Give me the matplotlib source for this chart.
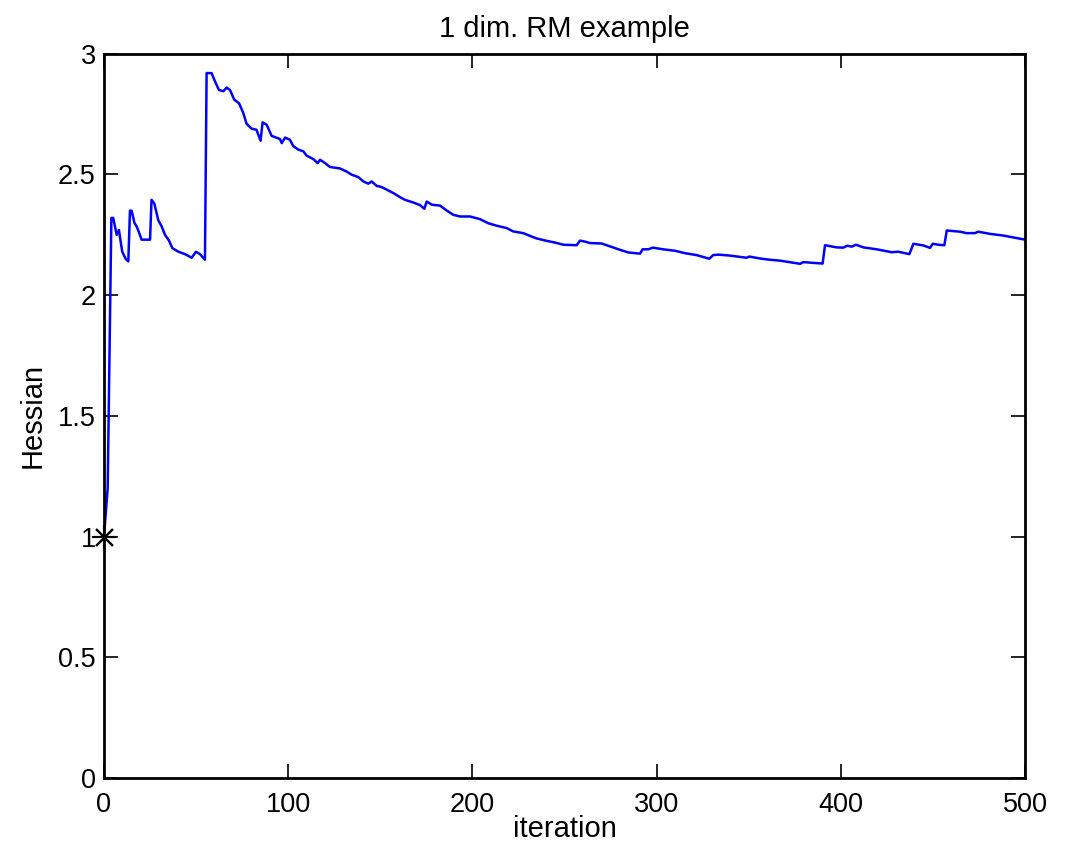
import matplotlib
matplotlib.use("Agg")
import matplotlib.pyplot as plt

plt.rcParams['font.family'] = ['Liberation Sans', 'DejaVu Sans']

iteration = [0, 2, 4, 5, 6.9, 8.1, 9.9, 11.8, 13.2, 14.1, 15, 16.5, 17.7, 19, 20.4, 25, 25.8, 27.3,
             29.5, 31.3, 33.1, 35.3, 37.1, 40.4, 44, 47.6, 49.9, 52.1, 54.8, 55.7, 58.4, 60.3, 62.4,
             64.8, 66.6, 68.4, 70.7, 73.3, 75.6, 77.4, 80.1, 82.8, 85, 86.1, 88.3, 91, 95.5, 96.5,
             98.3, 100.9, 102.8, 105.5, 108.2, 110, 113.6, 116, 117.3, 120, 122.7, 128.1, 131.7,
             134.5, 138.1, 140.8, 143.5, 145.3, 148, 150.7, 153.5, 157.1, 160.7, 163.4, 167.9,
             171.6, 173.9, 175.2, 177.9, 182.4, 186, 189.6, 193.3, 198.7, 204.1, 208.6, 213.1,
             218.6, 222.2, 227.6, 232.1, 234.9, 240.3, 244.8, 249.4, 256.6, 258.4, 261.1, 263.8,
             270.2, 274.7, 280.1, 284.6, 291, 292.4, 295.5, 297.9, 303.6, 310, 315.4, 321.7, 328.6,
             330.7, 333.5, 339.8, 348.9, 350.3, 356.1, 361.2, 367, 377.9, 379.6, 390.1, 391.4,
             397.7, 401.3, 403.5, 405.9, 408.2, 412.2, 419.5, 427.6, 431.2, 437.2, 439.4, 444.8,
             448.4, 449.9, 452.9, 456.2, 457.5, 464.7, 468.3, 472.8, 474.6, 481, 488.2, 500]
hessian = [1.0, 1.2, 2.32, 2.32, 2.25, 2.27, 2.18, 2.15, 2.14, 2.35, 2.35, 2.30, 2.285, 2.26, 2.23,
           2.23, 2.395, 2.38, 2.31, 2.285, 2.25, 2.226, 2.195, 2.18, 2.17, 2.155, 2.18, 2.17,
           2.147, 2.92, 2.92, 2.885, 2.85, 2.845, 2.86, 2.85, 2.81, 2.795, 2.755, 2.71, 2.69,
           2.685, 2.64, 2.716, 2.706, 2.66, 2.647, 2.63, 2.653, 2.644, 2.617, 2.603, 2.596, 2.578,
           2.564, 2.547, 2.561, 2.547, 2.531, 2.525, 2.512, 2.499, 2.489, 2.471, 2.462, 2.471,
           2.453, 2.448, 2.437, 2.423, 2.406, 2.395, 2.384, 2.373, 2.358, 2.388, 2.375, 2.371,
           2.351, 2.333, 2.326, 2.326, 2.315, 2.298, 2.288, 2.278, 2.264, 2.257, 2.243, 2.235,
           2.225, 2.218, 2.209, 2.207, 2.226, 2.222, 2.216, 2.214, 2.202, 2.188, 2.177, 2.172,
           2.19, 2.19, 2.197, 2.19, 2.184, 2.174, 2.166, 2.151, 2.166, 2.168, 2.164, 2.155, 2.16,
           2.152, 2.147, 2.143, 2.130, 2.137, 2.131, 2.207, 2.198, 2.197, 2.205, 2.201, 2.209,
           2.198, 2.190, 2.178, 2.180, 2.170, 2.213, 2.206, 2.196, 2.213, 2.209, 2.207, 2.268,
           2.263, 2.257, 2.257, 2.263, 2.254, 2.247, 2.230]
start_x = [0]
start_y = [1]

xticks = [0, 100, 200, 300, 400, 500]
yticks = [0, 0.5, 1, 1.5, 2, 2.5, 3]
ytick_labels = ['0', '0.5', '1', '1.5', '2', '2.5', '3']

fig = plt.figure(figsize=(10.71, 8.47), dpi=100)
ax = fig.add_axes([0.0971, 0.0815, 0.8600, 0.8550])
ax.plot(iteration, hessian, color='#0000ff', lw=1.8)
for ang in (0, 45):
    ax.plot(start_x, start_y, marker=(4, 2, ang), color='black', ms=17, mew=1.5,
            linestyle='none', clip_on=False, zorder=5)
ax.set_xlim(0, 500)
ax.set_ylim(0, 3)
ax.set_xticks(xticks)
ax.set_yticks(yticks)
ax.set_yticklabels(ytick_labels)
ax.tick_params(direction='in', length=10, width=1.2, top=True, right=True, labelsize=19.5)
ax.tick_params(axis='x', pad=10)
ax.tick_params(axis='y', pad=6)
for s in ax.spines.values():
    s.set_linewidth(2)
ax.set_title('1 dim. RM example', fontsize=21, pad=12)
ax.set_xlabel('iteration', fontsize=21, labelpad=-2)
ax.set_ylabel('Hessian', fontsize=21, labelpad=8)
fig.savefig('out.png', dpi=100)
